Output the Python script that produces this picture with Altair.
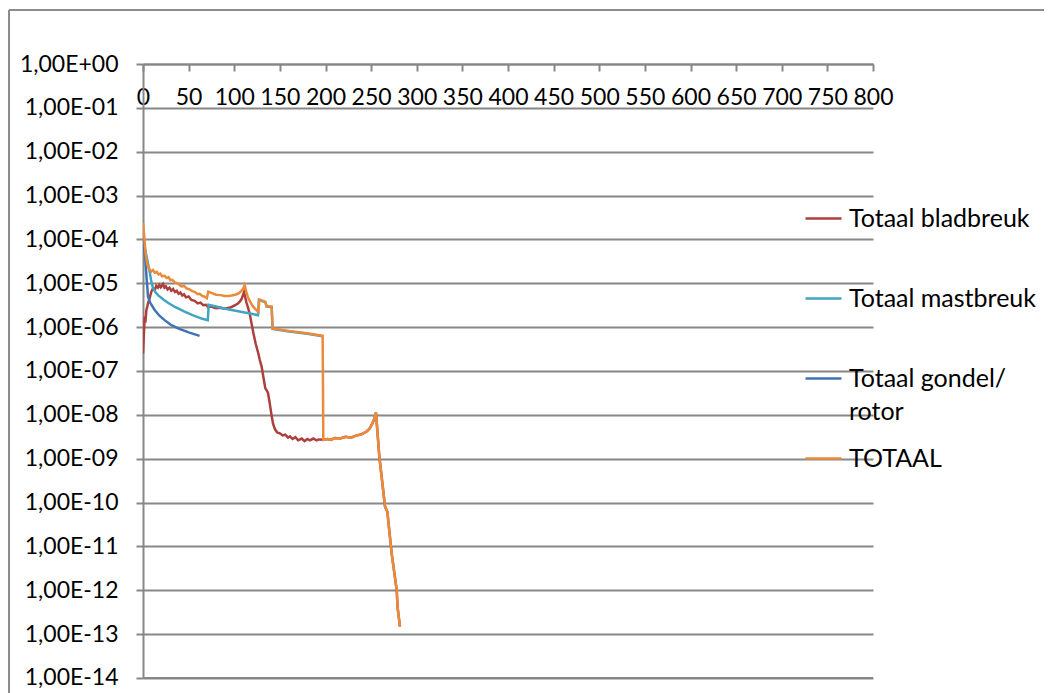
import altair as alt
import pandas as pd

# ---- data (x, log10 of value) ----
blad_x = [0, 0.6, 1.2, 1.8, 2.6, 3.7, 4.5, 5.5, 7.3, 9, 11, 13, 14.5, 16.4, 18, 19.5, 21.9, 23.5, 25, 27,
          29, 31, 33, 35, 37, 39, 41, 43, 45, 47, 50, 53, 56.6, 60, 63, 66, 69, 71.2, 75, 80,
          85, 89.5, 94, 97, 101, 104, 106, 108, 110.7, 112, 113.5, 115, 117, 119, 121, 123.5, 126.4, 128, 130, 132,
          134, 135.5, 137, 139, 140.5, 142.5, 144.7, 147, 150, 153, 156, 159, 161, 164, 167, 170, 174, 177, 180, 183,
          186.6, 190, 193, 197.6, 202, 206, 210, 216, 222, 228, 234, 240, 245, 248, 250.6, 253, 255.3, 259, 265.2, 267.8,
          272.5, 278, 279.1, 281.6]
blad_log = [-6.60, -6.35, -6.05, -5.76, -5.90, -5.61, -5.55, -5.45, -5.34, -5.20, -5.11, -5.15, -5.06, -5.10, -5.04, -5.09, -5.02, -5.10, -5.07, -5.14,
            -5.10, -5.17, -5.13, -5.20, -5.17, -5.24, -5.21, -5.28, -5.25, -5.32, -5.30, -5.38, -5.40, -5.46, -5.44, -5.50, -5.49, -5.54, -5.53, -5.57,
            -5.56, -5.58, -5.56, -5.54, -5.50, -5.46, -5.42, -5.36, -5.20, -5.32, -5.45, -5.55, -5.70, -5.92, -6.14, -6.38, -6.60, -6.75, -6.90, -7.15,
            -7.39, -7.44, -7.50, -7.75, -7.96, -8.20, -8.33, -8.40, -8.42, -8.47, -8.45, -8.52, -8.49, -8.55, -8.51, -8.58, -8.54, -8.60, -8.55, -8.58,
            -8.54, -8.58, -8.56, -8.57, -8.55, -8.57, -8.53, -8.54, -8.50, -8.52, -8.47, -8.44, -8.38, -8.32, -8.23, -8.12, -7.95, -8.95, -10.09, -10.21,
            -11.16, -11.99, -12.41, -12.83]

mast_x = [0, 1.5, 3, 5, 7.3, 9, 11, 13.5, 16.4, 20, 23, 27, 31, 35, 40, 45, 49.3, 55, 60, 65, 71, 72, 80, 90, 100, 110, 120, 126, 127,
          134, 135.5, 141, 142, 160, 180, 197]
mast_log = [-4.00, -4.15, -4.30, -4.50, -4.73, -4.95, -5.11, -5.20, -5.27, -5.33, -5.38, -5.44, -5.49, -5.54, -5.59, -5.64, -5.68, -5.73,
            -5.77, -5.81, -5.84, -5.49, -5.53, -5.58, -5.62, -5.66, -5.70, -5.73, -5.38, -5.43, -5.53, -5.54, -6.04, -6.10, -6.15, -6.21]

gond_x = [0, 1, 2.6, 4, 5.5, 8, 12.8, 18, 23.7, 30, 38.4, 50, 62]
gond_log = [-3.86, -4.10, -4.47, -4.90, -5.30, -5.45, -5.61, -5.74, -5.84, -5.94, -6.03, -6.12, -6.20]

tot_x = [0, 1, 2, 3, 4.5, 5.5, 7, 9, 11, 13, 15, 17, 19, 21, 23.7, 26, 28, 30, 32, 35, 38, 42, 45, 48, 51, 54, 57, 60, 62, 65, 67, 70,
         71.5, 75, 80, 85, 89.5, 94, 97, 101, 104, 106, 108, 110, 111.4, 113, 115, 117, 119, 121, 124.2, 126.4, 127.5, 134, 135.5, 141,
         142, 160, 180, 196.9, 197.6, 202, 206, 210, 216, 222, 228, 234, 240, 245, 248, 250.6, 253, 255.3, 259, 265.2, 267.8,
         272.5, 278, 279.1, 281.6]
tot_log = [-3.62, -3.85, -4.10, -4.35, -4.55, -4.62, -4.68, -4.73, -4.70, -4.76, -4.74, -4.80, -4.78, -4.84, -4.83, -4.88, -4.86, -4.93,
           -4.92, -4.98, -5.00, -5.07, -5.06, -5.12, -5.14, -5.18, -5.20, -5.25, -5.24, -5.29, -5.30, -5.34,
           -5.19, -5.22, -5.26, -5.27, -5.29, -5.29, -5.28, -5.26, -5.24, -5.21, -5.17, -5.11, -5.04, -5.18, -5.32, -5.40, -5.48, -5.54,
           -5.61, -5.65, -5.37, -5.42, -5.52, -5.53, -6.03, -6.09, -6.14, -6.20, -8.57, -8.55, -8.57, -8.53, -8.54, -8.50, -8.52, -8.47,
           -8.44, -8.38, -8.32, -8.23, -8.12, -7.95, -8.95, -10.09, -10.21, -11.16, -11.99, -12.41, -12.83]

series_names = ["Totaal bladbreuk", "Totaal mastbreuk", "Totaal gondel/ rotor", "TOTAAL"]
series_colors = ["#AD403D", "#41A5C1", "#4172B4", "#EA8B3B"]
y_ticks = [float("1e-%d" % k) for k in range(0, 15)]
x_ticks = list(range(0, 801, 50))

rows = []
for name, xs, ls in zip(series_names, [blad_x, mast_x, gond_x, tot_x], [blad_log, mast_log, gond_log, tot_log]):
    for i, (xv, lv) in enumerate(zip(xs, ls)):
        rows.append({"series": name, "x": xv, "v": 10.0 ** lv, "o": i})
df = pd.DataFrame(rows)

W, H = 730, 614
FONT = "Lato"
GRID = "#878787"

label_expr = ("'1,00E' + (round(log(datum.value)/LN10) < 0 ? '-' : '+') + "
              "(abs(round(log(datum.value)/LN10)) < 10 ? '0' : '') + abs(round(log(datum.value)/LN10))")

x_enc = alt.X("x:Q", scale=alt.Scale(domain=[0, 800], nice=False, zero=False),
              axis=alt.Axis(orient="bottom", offset=-H, values=x_ticks, grid=False, tickSize=7,
                            tickColor=GRID, tickWidth=2, domainColor=GRID, domainWidth=2,
                            labelFont=FONT, labelFontSize=23, labelColor="black", labelPadding=15,
                            labelFlush=False, labelOverlap=False, title=None, format="d"))
y_scale = alt.Scale(type="log", domain=[0.9995e-14, 1], nice=False)
y_enc = alt.Y("v:Q", scale=y_scale,
              axis=alt.Axis(values=y_ticks, labelExpr=label_expr, grid=True, gridColor=GRID, gridWidth=2,
                            tickSize=7, tickColor=GRID, tickWidth=2, domainColor=GRID, domainWidth=2,
                            labelFont=FONT, labelFontSize=23, labelColor="black", labelPadding=18,
                            labelOverlap=False, labelFlush=False, title=None))
color_enc = alt.Color("series:N", sort=series_names,
                      scale=alt.Scale(domain=series_names, range=series_colors),
                      legend=alt.Legend(orient="none", legendX=661, legendY=135, title=None,
                                        symbolType="stroke", symbolSize=1296, symbolStrokeWidth=2.5,
                                        labelFont=FONT, labelFontSize=25, labelColor="black", labelLimit=300,
                                        labelOffset=6, rowPadding=14, gridAlign="all",
                                        labelExpr="datum.label == 'Totaal gondel/ rotor' ? ['Totaal gondel/', 'rotor'] : datum.label"))

layers = []
for name in series_names:
    layers.append(alt.Chart(df).transform_filter(alt.datum.series == name)
                  .mark_line(strokeWidth=2.5, clip=True)
                  .encode(x=x_enc, y=y_enc, color=color_enc, order="o:Q"))

deco = alt.Data(values=[{"a": 1}])
# bottom gridline of the plot area (1,00E-14 level)
bottom_grid = alt.Chart(deco).mark_rule(color=GRID, strokeWidth=2).encode(
    x=alt.value(0), x2=alt.value(W), y=alt.value(H))
# outer chart frame
frame_top = alt.Chart(deco).mark_rule(color="#8c8c8c", strokeWidth=2).encode(
    x=alt.value(-134), x2=alt.value(W + 300), y=alt.value(-54))
frame_left = alt.Chart(deco).mark_rule(color="#8c8c8c", strokeWidth=2).encode(
    x=alt.value(-134), y=alt.value(-54), y2=alt.value(H + 100))

chart = alt.layer(*layers, bottom_grid, frame_top, frame_left).properties(
    width=W, height=H,
    autosize=alt.AutoSizeParams(type="none"),
    padding={"left": 135, "top": 56, "right": 171, "bottom": 15},
).configure(
    background="white",
    view=alt.ViewConfig(stroke=None),
    style={"guide-label": {"lineHeight": 33}},
)

chart.save("out.html", embed_options={"renderer": "svg", "actions": False})
